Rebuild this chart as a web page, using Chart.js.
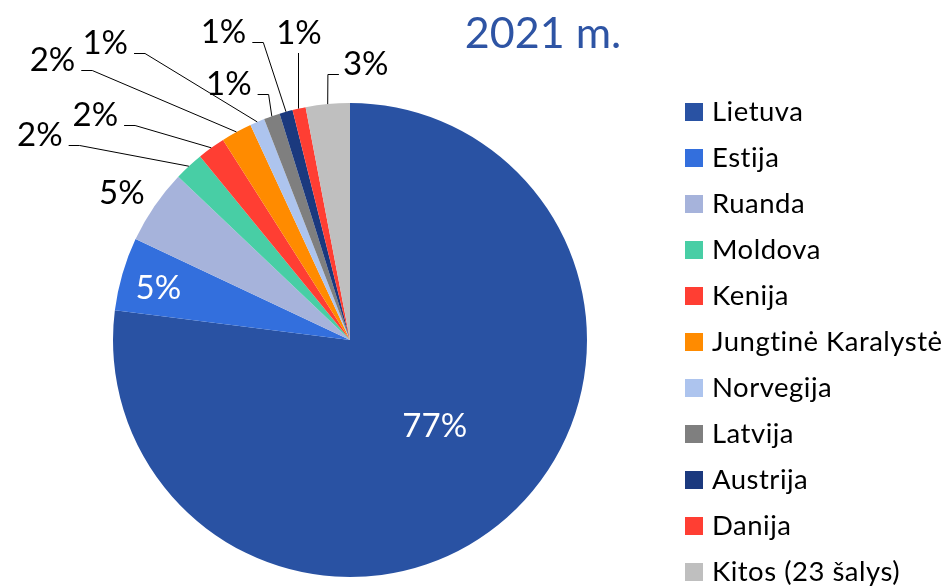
<!DOCTYPE html>
<html><head><meta charset="utf-8">
<script src="https://cdn.jsdelivr.net/npm/chart.js@4/dist/chart.umd.min.js"></script>
<style>html,body{margin:0;padding:0;background:#fff;overflow:hidden}#wrap{position:relative;width:951px;height:586px}</style>
</head><body><div id="wrap"><canvas id="c" width="951" height="586"></canvas></div>
<script>
// ---- data ----
const categories = ['Lietuva','Estija','Ruanda','Moldova','Kenija','Jungtinė Karalystė','Norvegija','Latvija','Austrija','Danija','Kitos (23 šalys)'];
const shares = [77.0, 5.0, 5.1, 2.0, 1.9, 2.1, 1.0, 1.1, 0.9, 0.9, 3.0];
const shareLabels = ['77%','5%','5%','2%','2%','2%','1%','1%','1%','1%','3%'];
const chartTitle = '2021 m.';

// ---- styles ----
const sliceColors = ['#2952A3','#336FDD','#A6B3DB','#48CEA5','#FF3E33','#FF8B00','#ADC4EE','#7F7F7F','#1B397E','#FF3E33','#BFBFBF'];
// text centre offsets relative to slice outer-edge midpoint, plus leader style
const labelLayout = [
  {dx:-72,  dy:-93,   color:'#fff'},
  {dx:36,   dy:13.5,  color:'#fff'},
  {dx:-32.5,dy:-14.5},
  {dx:-149, dy:-32.5, leader:'left'},
  {dx:-116, dy:-34,   leader:'left'},
  {dx:-184, dy:-72.5, leader:'left'},
  {dx:-152, dy:-80,   leader:'left'},
  {dx:-43,  dy:-33.5, leader:'left'},
  {dx:-62.5,dy:-80.5, leader:'left'},
  {dx:0,    dy:-77,   leader:'down'},
  {dx:38,   dy:-41.5, leader:'right'}
];
const FONT = 'Lato, "Noto Sans", sans-serif';

const overlayPlugin = {
  id: 'overlay',
  afterDatasetsDraw(chart) {
    const ctx = chart.ctx;
    const meta = chart.getDatasetMeta(0);
    ctx.save();
    ctx.font = '33px ' + FONT;
    ctx.textAlign = 'center';
    ctx.textBaseline = 'alphabetic';
    meta.data.forEach((arc, i) => {
      const p = arc.getProps(['x','y','startAngle','endAngle','outerRadius'], true);
      const mid = (p.startAngle + p.endAngle) / 2;
      const ex = p.x + Math.cos(mid) * p.outerRadius;
      const ey = p.y + Math.sin(mid) * p.outerRadius;
      const L = labelLayout[i];
      const cx = ex + L.dx, cy = ey + L.dy;
      const w = ctx.measureText(shareLabels[i]).width;
      const base = Math.round(cy + 12);
      ctx.fillStyle = L.color || '#000';
      ctx.fillText(shareLabels[i], cx, base);
      if (L.leader) {
        ctx.strokeStyle = '#000';
        ctx.lineWidth = 1;
        ctx.beginPath();
        const ly = base - 0.5;
        if (L.leader === 'left') {
          const sx = cx + w / 2 + 6;
          ctx.moveTo(sx, ly); ctx.lineTo(sx + 11, ly); ctx.lineTo(ex, ey);
        } else if (L.leader === 'right') {
          const sx = cx - w / 2 - 4;
          ctx.moveTo(sx, ly); ctx.lineTo(sx - 11, ly); ctx.lineTo(ex, ey);
        } else {
          ctx.moveTo(Math.round(cx) - 0.5, base + 9); ctx.lineTo(Math.round(cx) - 0.5, ey);
        }
        ctx.stroke();
      }
    });
    // title
    ctx.font = '43px ' + FONT;
    ctx.fillStyle = '#2E54A4';
    ctx.textAlign = 'center';
    ctx.fillText(chartTitle, 543, 48);
    // legend
    ctx.font = '27.5px ' + FONT;
    ctx.letterSpacing = '0.5px';
    ctx.textAlign = 'left';
    categories.forEach((name, i) => {
      const top = 103 + 46 * i;
      ctx.fillStyle = sliceColors[i];
      ctx.fillRect(685, top, 18, 18);
      ctx.fillStyle = '#000';
      ctx.fillText(name, 712, top + 18);
    });
    ctx.restore();
  }
};

new Chart(document.getElementById('c'), {
  type: 'pie',
  data: {
    labels: categories,
    datasets: [{ data: shares, backgroundColor: sliceColors, borderWidth: 0 }]
  },
  options: {
    responsive: false,
    animation: false,
    devicePixelRatio: 1,
    layout: { padding: { left: 113, right: 364, top: 103, bottom: 9 } },
    plugins: { legend: { display: false }, tooltip: { enabled: false }, title: { display: false } }
  },
  plugins: [overlayPlugin]
});
</script>
</body></html>
